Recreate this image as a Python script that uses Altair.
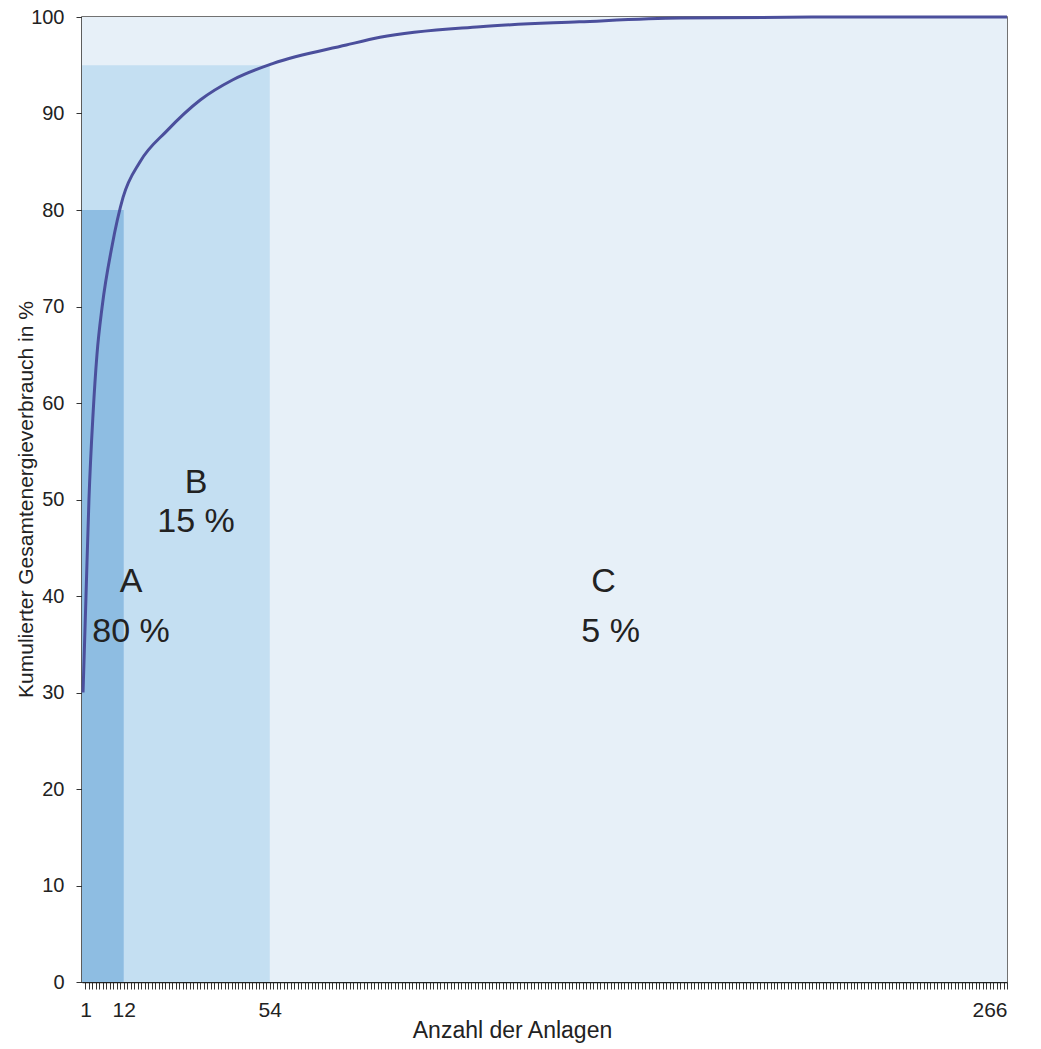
import altair as alt
import pandas as pd

# Cumulative curve (Anzahl der Anlagen, kumulierter %)
curve_x = [0.3, 1.15, 2.0, 3.2, 4.3, 5.8, 8.6, 11.8, 16.7, 24.4, 34, 43.4, 55, 76, 85.7, 114.5, 143, 172, 220, 266]
curve_y = [30, 40, 50, 59, 65, 70, 76.2, 81.3, 85.0, 88.2, 91.4, 93.5, 95.2, 97.1, 97.9, 99.0, 99.5, 99.9, 100, 100]

# ABC regions
region_name = ["C", "B", "A"]
region_x2 = [266, 54, 12]
region_y2 = [100, 95, 80]
region_color = ["#e7f0f8", "#c4dff2", "#8ebde2"]

# Region labels
label_text = ["A", "80 %", "B", "15 %", "C", "5 %"]
label_x = [14.1, 14.1, 32.8, 32.8, 150, 152]
label_y = [41.5, 36.3, 51.7, 47.7, 41.5, 36.3]

x_tick_labels = [1, 12, 54, 266]
y_ticks = list(range(0, 101, 10))

FONT = "Liberation Sans"

curve_df = pd.DataFrame({"x": curve_x, "y": curve_y})
region_df = pd.DataFrame({"name": region_name, "x": [0] * 3, "x2": region_x2,
                          "y": [0] * 3, "y2": region_y2, "color": region_color})
label_df = pd.DataFrame({"t": label_text, "x": label_x, "y": label_y})

xscale = alt.Scale(domain=[0, 266], nice=False, zero=False)
yscale = alt.Scale(domain=[0, 100], nice=False)

label_expr = " || ".join(f"datum.value == {v}" for v in x_tick_labels)

x_axis = alt.Axis(
    values=list(range(1, 267)),
    tickCount=400,
    format="d",
    labelExpr=f"({label_expr}) ? format(datum.value, 'd') : ''",
    labelOverlap=False,
    labelFont=FONT, labelFontSize=21, labelColor="#222",
    labelPadding=10,
    tickSize=7, tickColor="#333", tickWidth=1,
    domainColor="#222", domainWidth=1.5,
    grid=False,
    title="Anzahl der Anlagen",
    titleFont=FONT, titleFontSize=23, titleFontWeight="normal", titleColor="#222",
    titleX=430, titleY=55, titleAnchor="middle", titleAlign="center",
    titleBaseline="alphabetic",
)

y_axis = alt.Axis(
    values=y_ticks,
    labelFont=FONT, labelFontSize=20, labelColor="#222",
    labelPadding=12,
    tickSize=6, tickColor="#333",
    domainColor="#222", domainWidth=1.5,
    grid=True, gridColor="#b9c2cc", gridDash=[2, 3], gridWidth=1,
    title="Kumulierter Gesamtenergieverbrauch  in %",
    titleFont=FONT, titleFontSize=21, titleFontWeight="normal", titleColor="#222",
    titleX=-56, titleY=482, titleAngle=-90, titleAlign="center", titleBaseline="middle",
)

regions = alt.Chart(region_df).mark_rect(opacity=1).encode(
    x=alt.X("x:Q", scale=xscale, axis=x_axis),
    x2="x2:Q",
    y=alt.Y("y:Q", scale=yscale, axis=y_axis),
    y2="y2:Q",
    color=alt.Color("color:N", scale=None),
    order=alt.Order("y2:Q", sort="descending"),
)

line = alt.Chart(curve_df).mark_line(
    color="#4b4f9c", strokeWidth=3, interpolate="monotone"
).encode(
    x=alt.X("x:Q", scale=xscale),
    y=alt.Y("y:Q", scale=yscale),
)

labels = alt.Chart(label_df).mark_text(
    font=FONT, fontSize=34, color="#222", align="center", baseline="middle"
).encode(
    x=alt.X("x:Q", scale=xscale),
    y=alt.Y("y:Q", scale=yscale),
    text="t:N",
)

chart = alt.layer(regions, line, labels).properties(
    width=925, height=965,
    padding={"left": 82, "top": 17, "right": 34, "bottom": 67},
    autosize=alt.AutoSizeParams(type="none"),
    background="white",
).configure_view(
    stroke="#444", strokeWidth=1.5, fill="#e9f1f8"
)

chart.save("out.html", embed_options={"renderer": "svg", "actions": False})
